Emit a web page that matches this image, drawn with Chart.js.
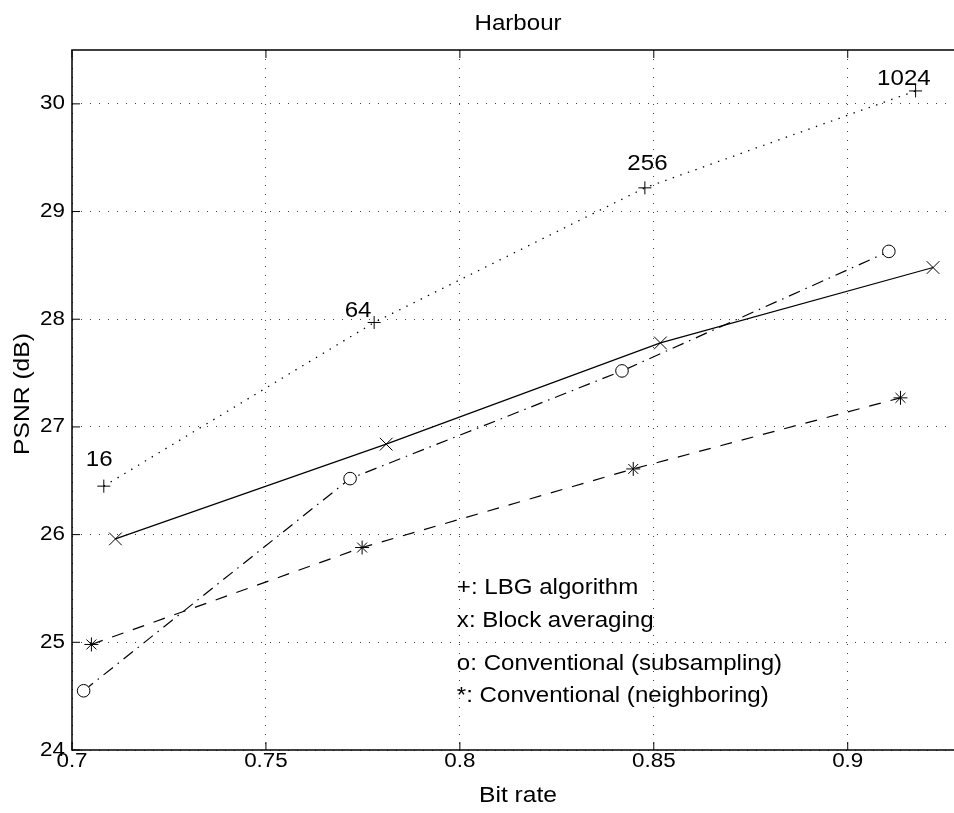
<!DOCTYPE html>
<html>
<head>
<meta charset="utf-8">
<title>Harbour</title>
<script src="https://cdn.jsdelivr.net/npm/chart.js@4.4.0/dist/chart.umd.min.js"></script>
<style>
  html, body { margin: 0; padding: 0; background: #fff; overflow: hidden; }
  #wrap { width: 954px; height: 813px; }
</style>
</head>
<body>
<div id="wrap"><canvas id="psnrChart" width="954" height="813"></canvas></div>
<script>
// PSNR vs bit rate for the Harbour image, four coding schemes
const lbgRate   = [0.7082, 0.7779, 0.8477, 0.9175];
const lbgPsnr   = [26.45, 27.97, 29.22, 30.12];
const lbgSizes  = ['16', '64', '256', '1024'];   // codebook sizes

const blockRate = [0.7112, 0.7810, 0.8517, 0.9220];
const blockPsnr = [25.96, 26.84, 27.78, 28.48];

const subRate   = [0.7030, 0.7717, 0.8418, 0.9106];
const subPsnr   = [24.55, 26.52, 27.52, 28.63];

const nbrRate   = [0.7050, 0.7748, 0.8447, 0.9136];
const nbrPsnr   = [24.98, 25.88, 26.61, 27.27];

const xTicks      = [0.7, 0.75, 0.8, 0.85, 0.9];
const xTickLabels = ['0.7', '0.75', '0.8', '0.85', '0.9'];
const yTicks      = [24, 25, 26, 27, 28, 29, 30];
const yTickLabels = ['24', '25', '26', '27', '28', '29', '30'];

// the axes run on to 0.93, just past the right edge of the page
const xAxisEnd = 0.93;
const xVisibleMax = 0.9274;

// text key written inside the axes
const keyLines = ['+: LBG algorithm', 'x: Block averaging', 'o: Conventional (subsampling)', '*: Conventional (neighboring)'];
const keyRate  = 0.8;
const keyPsnr  = [25.5, 25.2, 24.8, 24.5];

const FONT = '"Liberation Sans", Arial, Helvetica, sans-serif';
const WIDEN = 1.12;   // the Helvetica used for this figure runs wider than Arial

const toPoints = (xs, ys) => xs.map((v, i) => ({ x: v, y: ys[i] }));

function wideText(ctx, text, x, y, size, align, baseline, angle) {
    ctx.save();
    ctx.translate(x, y);
    if (angle) ctx.rotate(angle);
    ctx.scale(WIDEN, 1);
    ctx.font = size + 'px ' + FONT;
    ctx.textAlign = align;
    ctx.textBaseline = baseline;
    ctx.fillText(text, 0, 0);
    ctx.restore();
}

// frame, inward ticks, tick labels, titles, size labels and the text key
const decorations = {
    id: 'decorations',
    afterDatasetsDraw(chart, args, opts) {
        const { ctx, chartArea: a, scales: { x, y } } = chart;
        ctx.save();

        ctx.strokeStyle = '#000';
        ctx.lineWidth = 1.5;
        ctx.beginPath();
        ctx.moveTo(a.right + 2, a.top);
        ctx.lineTo(a.left, a.top);
        ctx.lineTo(a.left, a.bottom);
        ctx.lineTo(a.right + 2, a.bottom);
        ctx.stroke();

        ctx.lineWidth = 1;
        ctx.beginPath();
        xTicks.forEach(v => {
            const px = x.getPixelForValue(v);
            ctx.moveTo(px, a.bottom); ctx.lineTo(px, a.bottom - opts.tickLen);
            ctx.moveTo(px, a.top);    ctx.lineTo(px, a.top + opts.tickLen);
        });
        yTicks.forEach(v => {
            const py = y.getPixelForValue(v);
            ctx.moveTo(a.left, py);  ctx.lineTo(a.left + opts.tickLen, py);
        });
        ctx.stroke();
        ctx.fillStyle = '#000';

        xTicks.forEach((v, i) => wideText(ctx, xTickLabels[i], x.getPixelForValue(v), a.bottom + 11, 20, 'center', 'middle'));
        yTicks.forEach((v, i) => wideText(ctx, yTickLabels[i], a.left - 7, y.getPixelForValue(v), 20, 'right', 'middle'));

        // titles are centred on the whole axes, which end at xAxisEnd
        const cx = x.getPixelForValue((x.min + xAxisEnd) / 2);
        wideText(ctx, 'Harbour', cx, 24, 21.5, 'center', 'middle');
        wideText(ctx, 'Bit rate', cx, a.bottom + 45.5, 22, 'center', 'middle');
        wideText(ctx, 'PSNR (dB)', a.left - 49.5, (a.top + a.bottom) / 2 - 6, 22, 'center', 'middle', -Math.PI / 2);

        // codebook sizes next to the LBG points
        lbgSizes.forEach((s, i) => {
            const [dx, dy] = opts.sizeOffsets[i];
            wideText(ctx, s, x.getPixelForValue(lbgRate[i]) + dx, y.getPixelForValue(lbgPsnr[i]) + dy, 21.5, 'left', 'alphabetic');
        });

        keyLines.forEach((t, i) => {
            wideText(ctx, t, x.getPixelForValue(keyRate) - 3, y.getPixelForValue(keyPsnr[i]), 21.5, 'left', 'middle');
        });

        ctx.restore();
    }
};

const lineStyle = {
    borderColor: '#000',
    backgroundColor: 'rgba(0,0,0,0)',
    pointBorderColor: '#000',
    pointBackgroundColor: 'rgba(0,0,0,0)',
    pointBorderWidth: 1,
    pointHoverRadius: 0,
    fill: false,
    tension: 0
};

const ctx = document.getElementById('psnrChart').getContext('2d');
const chart = new Chart(ctx, {
    type: 'line',
    data: {
        datasets: [
            { ...lineStyle, label: 'LBG algorithm', data: toPoints(lbgRate, lbgPsnr),
              borderWidth: 1.3, borderDash: [1.4, 6.6], pointStyle: 'cross', pointRadius: 6.5 },
            { ...lineStyle, label: 'Block averaging', data: toPoints(blockRate, blockPsnr),
              borderWidth: 1.2, pointStyle: 'crossRot', pointRadius: 9 },
            { ...lineStyle, label: 'Conventional (subsampling)', data: toPoints(subRate, subPsnr),
              borderWidth: 1.2, borderDash: [12, 6, 1.5, 6], pointStyle: 'circle', pointRadius: 6.3,
              pointBackgroundColor: '#fff' },
            { ...lineStyle, label: 'Conventional (neighboring)', data: toPoints(nbrRate, nbrPsnr),
              borderWidth: 1.2, borderDash: [12, 10], pointStyle: 'star', pointRadius: 7 }
        ]
    },
    options: {
        responsive: false,
        animation: false,
        devicePixelRatio: 1,
        layout: { autoPadding: false, padding: { top: 50, left: 0, right: 0, bottom: 0 } },
        scales: {
            x: {
                type: 'linear',
                min: 0.7,
                max: xVisibleMax,
                afterBuildTicks: s => { s.ticks = xTicks.map(v => ({ value: v })); },
                afterFit: s => { s.height = 63; },
                grid: { color: 'rgba(0,0,0,0.75)', lineWidth: 1, drawTicks: false },
                border: { display: false, dash: [1, 8] },
                ticks: { display: false }
            },
            y: {
                type: 'linear',
                min: 24,
                max: 30.5,
                afterBuildTicks: s => { s.ticks = yTicks.map(v => ({ value: v })); },
                afterFit: s => { s.width = 72; },
                grid: { color: 'rgba(0,0,0,0.75)', lineWidth: 1, drawTicks: false },
                border: { display: false, dash: [1, 8] },
                ticks: { display: false }
            }
        },
        plugins: {
            legend: { display: false },
            tooltip: { enabled: false },
            decorations: {
                tickLen: 8,
                sizeOffsets: [[-18, -20], [-29.5, -5.5], [-17.5, -17.5], [-38.5, -5.5]]
            }
        }
    },
    plugins: [decorations]
});
</script>
</body>
</html>
